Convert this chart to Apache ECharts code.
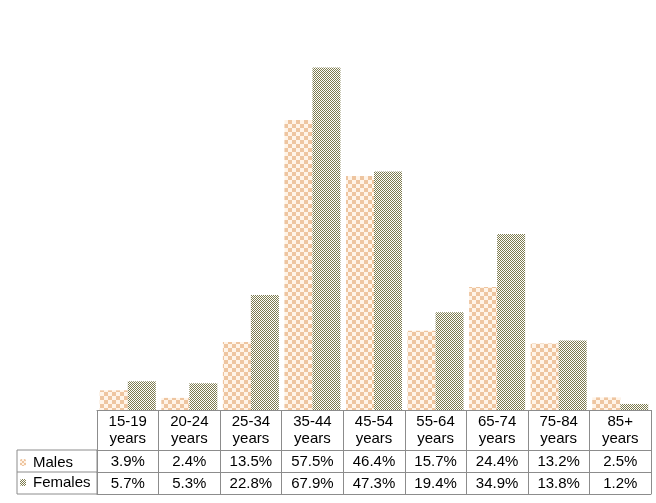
<!DOCTYPE html>
<html>
<head>
<meta charset="utf-8">
<script src="https://cdn.jsdelivr.net/npm/echarts@6/dist/echarts.min.js"></script>
<style>
  html, body { margin: 0; padding: 0; background: #fff; }
  #main { width: 656px; height: 503px; }
</style>
</head>
<body>
<div id="main"></div>
<script>
// data
var categories = ['15-19 years', '20-24 years', '25-34 years', '35-44 years', '45-54 years',
                  '55-64 years', '65-74 years', '75-84 years', '85+ years'];
var males   = [3.9, 2.4, 13.5, 57.5, 46.4, 15.7, 24.4, 13.2, 2.5];
var females = [5.7, 5.3, 22.8, 67.9, 47.3, 19.4, 34.9, 13.8, 1.2];

var gridLeft = 97, gridBottom = 93;
var rowHead = 40, rowH = 22;
var lineColor = '#8c8c8c';
var font = "'Liberation Sans', Arial, sans-serif";

// checker pattern like the old excel fills
function checker(size, c1, c2) {
    var cv = document.createElement('canvas');
    cv.width = size * 2;
    cv.height = size * 2;
    var ctx = cv.getContext('2d');
    ctx.fillStyle = c2;
    ctx.fillRect(0, 0, size * 2, size * 2);
    ctx.fillStyle = c1;
    ctx.fillRect(0, 0, size, size);
    ctx.fillRect(size, size, size, size);
    return { image: cv, repeat: 'repeat' };
}
var maleFill = checker(4, '#eec5a0', '#fff4e8');
var femaleFill = checker(1, '#7d7b4e', '#ffffff');
var maleIcon = checker(2, '#eec5a0', '#fff4e8');

var myChart = echarts.init(document.getElementById('main'));

var tableAxis = function (offset, fmt) {
    return {
        type: 'category',
        data: categories,
        position: 'bottom',
        offset: offset,
        axisLine: { show: true, lineStyle: { color: lineColor, width: 1 } },
        axisTick: { show: false },
        axisLabel: {
            show: !!fmt,
            interval: 0,
            margin: 3,
            color: '#000',
            fontFamily: font,
            fontSize: 15,
            lineHeight: 17,
            formatter: fmt
        }
    };
};

option = {
    animation: false,
    grid: { left: gridLeft, right: 5, top: 57, bottom: gridBottom },
    legend: {
        orient: 'vertical',
        left: 20,
        top: 455,
        padding: 0,
        itemWidth: 6,
        itemHeight: 7,
        itemGap: 5,
        textStyle: { fontFamily: font, fontSize: 15, color: '#000', padding: [0, 0, 0, 2] },
        data: [
            { name: 'Males', itemStyle: { color: maleIcon } },
            { name: 'Females' }
        ]
    },
    xAxis: [
        {
            type: 'category',
            data: categories,
            position: 'bottom',
            axisLine: { show: true, lineStyle: { color: lineColor, width: 1 } },
            axisTick: {
                show: true,
                interval: 0,
                inside: false,
                length: rowHead + rowH * 2,
                lineStyle: { color: lineColor, width: 1 }
            },
            axisLabel: {
                interval: 0,
                margin: 3,
                color: '#000',
                fontFamily: font,
                fontSize: 15,
                lineHeight: 17,
                formatter: function (v) { return v.replace(' ', '\n'); }
            }
        },
        tableAxis(rowHead, function (v, i) { return males[i].toFixed(1) + '%'; }),
        tableAxis(rowHead + rowH, function (v, i) { return females[i].toFixed(1) + '%'; }),
        tableAxis(rowHead + rowH * 2, null)
    ],
    yAxis: {
        type: 'value',
        min: 0,
        max: 70,
        show: false,
        splitLine: { show: false }
    },
    series: [
        {
            name: 'Males',
            type: 'bar',
            barGap: '0%',
            barCategoryGap: '9%',
            itemStyle: { color: maleFill },
            data: males
        },
        {
            name: 'Females',
            type: 'bar',
            itemStyle: { color: femaleFill },
            data: females
        }
    ],
    graphic: [
        {
            type: 'rect',
            silent: true,
            shape: { x: gridLeft - 80, y: 503 - gridBottom + rowHead, width: 80, height: rowH * 2 },
            style: { fill: 'none', stroke: lineColor, lineWidth: 1 }
        },
        {
            type: 'line',
            silent: true,
            shape: {
                x1: gridLeft - 80, y1: 503 - gridBottom + rowHead + rowH,
                x2: gridLeft, y2: 503 - gridBottom + rowHead + rowH
            },
            style: { stroke: lineColor, lineWidth: 1 }
        }
    ]
};

myChart.setOption(option);
</script>
</body>
</html>
